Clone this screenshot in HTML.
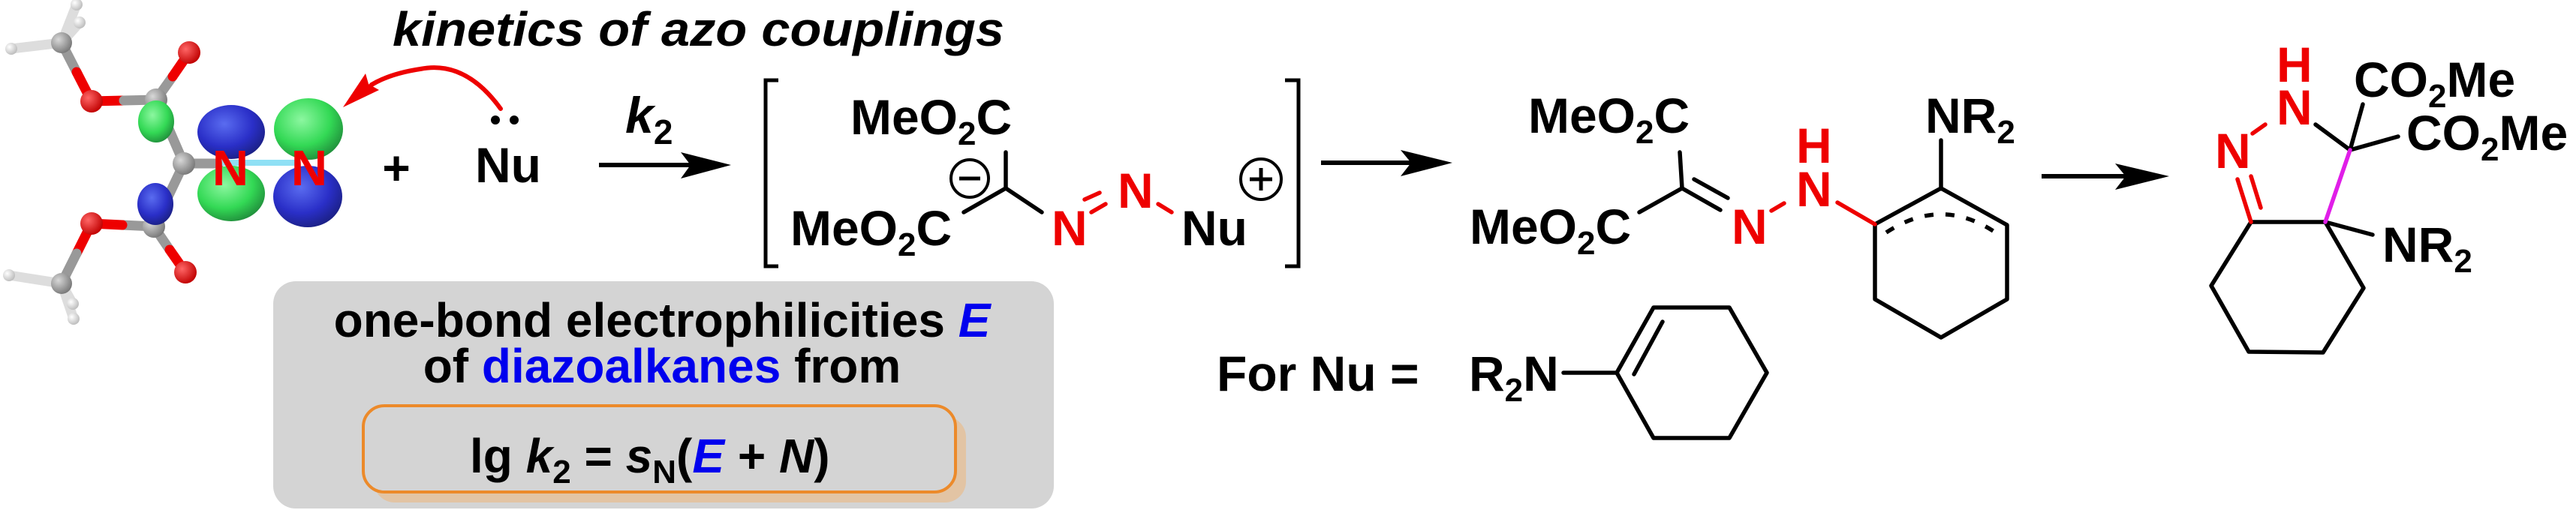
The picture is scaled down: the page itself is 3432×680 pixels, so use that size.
<!DOCTYPE html>
<html><head><meta charset="utf-8"><style>
html,body{margin:0;padding:0;background:#fff;}
svg{display:block;}
text{font-family:"Liberation Sans",Arial,sans-serif;font-weight:bold;}
</style></head><body>
<svg width="3432" height="680" viewBox="0 0 3432 680" xmlns="http://www.w3.org/2000/svg">
<defs>
<radialGradient id="gb" cx="0.4" cy="0.35" r="0.7"><stop offset="0" stop-color="#5a6cf0"/><stop offset="0.6" stop-color="#2a2fc8"/><stop offset="1" stop-color="#1a1f80"/></radialGradient>
<radialGradient id="gg" cx="0.4" cy="0.35" r="0.7"><stop offset="0" stop-color="#8cf7a0"/><stop offset="0.6" stop-color="#33d955"/><stop offset="1" stop-color="#1f8a3a"/></radialGradient>
<radialGradient id="gr" cx="0.35" cy="0.35" r="0.7"><stop offset="0" stop-color="#ff6666"/><stop offset="1" stop-color="#c00000"/></radialGradient>
<radialGradient id="gc" cx="0.35" cy="0.35" r="0.7"><stop offset="0" stop-color="#d8d8d8"/><stop offset="1" stop-color="#777"/></radialGradient>
<radialGradient id="gh" cx="0.35" cy="0.35" r="0.7"><stop offset="0" stop-color="#fff"/><stop offset="1" stop-color="#bbb"/></radialGradient>
</defs>

<!-- molecular model sticks -->
<g stroke-width="13" stroke-linecap="round">
<line x1="82" y1="57" x2="102" y2="6" stroke="#ddd"/>
<line x1="82" y1="57" x2="106" y2="30" stroke="#ddd"/>
<line x1="82" y1="57" x2="15" y2="65" stroke="#ddd"/>
<line x1="82" y1="57" x2="102" y2="96" stroke="#999"/>
<line x1="102" y1="96" x2="122" y2="135" stroke="#e00"/>
<line x1="122" y1="135" x2="165" y2="134" stroke="#e00"/>
<line x1="165" y1="134" x2="208" y2="133" stroke="#999"/>
<line x1="208" y1="133" x2="230" y2="102" stroke="#999"/>
<line x1="230" y1="102" x2="252" y2="70" stroke="#e00"/>
<line x1="208" y1="133" x2="245" y2="218" stroke="#999"/>
<line x1="245" y1="218" x2="205" y2="302" stroke="#999"/>
<line x1="245" y1="218" x2="292" y2="218" stroke="#999"/>
<line x1="205" y1="302" x2="163" y2="300" stroke="#999"/>
<line x1="163" y1="300" x2="122" y2="298" stroke="#e00"/>
<line x1="205" y1="302" x2="226" y2="333" stroke="#999"/>
<line x1="226" y1="333" x2="247" y2="363" stroke="#e00"/>
<line x1="122" y1="298" x2="102" y2="338" stroke="#e00"/>
<line x1="102" y1="338" x2="82" y2="378" stroke="#999"/>
<line x1="82" y1="378" x2="12" y2="367" stroke="#ddd"/>
<line x1="82" y1="378" x2="98" y2="425" stroke="#ddd"/>
<line x1="82" y1="378" x2="97" y2="405" stroke="#ddd"/>
</g>
<g>
<circle cx="102" cy="6" r="8" fill="url(#gh)"/><circle cx="106" cy="30" r="8" fill="url(#gh)"/><circle cx="15" cy="65" r="8" fill="url(#gh)"/>
<circle cx="12" cy="367" r="8" fill="url(#gh)"/><circle cx="98" cy="425" r="8" fill="url(#gh)"/><circle cx="97" cy="405" r="8" fill="url(#gh)"/>
<circle cx="82" cy="57" r="14" fill="url(#gc)"/><circle cx="82" cy="378" r="14" fill="url(#gc)"/>
<circle cx="122" cy="135" r="15" fill="url(#gr)"/><circle cx="252" cy="70" r="15" fill="url(#gr)"/>
<circle cx="122" cy="298" r="15" fill="url(#gr)"/><circle cx="247" cy="363" r="15" fill="url(#gr)"/>
<circle cx="208" cy="133" r="15" fill="url(#gc)"/><circle cx="205" cy="302" r="15" fill="url(#gc)"/>
<ellipse cx="208" cy="162" rx="24" ry="28" fill="url(#gg)"/>
<ellipse cx="207" cy="272" rx="24" ry="28" fill="url(#gb)"/>
<circle cx="245" cy="218" r="15" fill="url(#gc)"/>
<line x1="292" y1="217" x2="400" y2="217" stroke="#8fe0f5" stroke-width="8"/>
<ellipse cx="308" cy="176" rx="45" ry="36" fill="url(#gb)"/>
<ellipse cx="308" cy="258" rx="45" ry="37" fill="url(#gg)"/>
<ellipse cx="411" cy="172" rx="46" ry="41" fill="url(#gg)"/>
<ellipse cx="410" cy="262" rx="46" ry="41" fill="url(#gb)"/>
<line x1="330" y1="217" x2="392" y2="217" stroke="#8fe0f5" stroke-width="7"/>
<text x="307" y="247" font-size="67" fill="#e00" text-anchor="middle">N</text>
<text x="412" y="247" font-size="67" fill="#e00" text-anchor="middle">N</text>
</g>

<!-- curved arrow -->
<path d="M667,145 Q620,80 560,92 Q520,98 495,113" fill="none" stroke="#e00" stroke-width="6" stroke-linecap="round"/>
<polygon points="457,143 487,98 491,112 505,120" fill="#e00"/>
<circle cx="660" cy="160" r="6" fill="#000"/><circle cx="685" cy="160" r="6" fill="#000"/>
<text x="528" y="246" font-size="64" text-anchor="middle">+</text>
<text x="633" y="243" font-size="66">Nu</text>

<text x="523" y="61" font-size="64" font-style="italic" textLength="815" lengthAdjust="spacingAndGlyphs">kinetics of azo couplings</text>

<!-- k2 arrow -->
<text x="833" y="177" font-size="68" font-style="italic">k<tspan font-size="46" font-style="normal" dy="15">2</tspan></text>
<line x1="798" y1="220" x2="925" y2="220" stroke="#000" stroke-width="6"/>
<polygon points="974,220 907,203 920,220 907,238" fill="#000"/>

<!-- brackets -->
<path d="M1037,107 H1020 V355 H1037" fill="none" stroke="#000" stroke-width="5"/>
<path d="M1712,107 H1730 V355 H1712" fill="none" stroke="#000" stroke-width="5"/>

<text x="1133" y="179" font-size="66">MeO<tspan font-size="44" dy="14">2</tspan><tspan dy="-14">C</tspan></text>
<text x="1053" y="327" font-size="66">MeO<tspan font-size="44" dy="14">2</tspan><tspan dy="-14">C</tspan></text>
<circle cx="1292" cy="238" r="25" fill="none" stroke="#000" stroke-width="4"/>
<line x1="1278" y1="238" x2="1306" y2="238" stroke="#000" stroke-width="5"/>
<g stroke="#000" stroke-width="5.5" stroke-linecap="round" fill="none">
<line x1="1340" y1="203" x2="1340" y2="251"/>
<polyline points="1284,283 1340,251 1388,283"/>
</g>
<text x="1401" y="327" font-size="66" fill="#e00">N</text>
<g stroke="#e00" stroke-width="5.5" stroke-linecap="round">
<line x1="1445" y1="266" x2="1465" y2="257"/><line x1="1454" y1="283" x2="1473" y2="272"/>
<line x1="1543" y1="272" x2="1561" y2="283"/>
</g>
<text x="1489" y="277" font-size="66" fill="#e00">N</text>
<text x="1574" y="327" font-size="66">Nu</text>
<circle cx="1680" cy="239" r="27" fill="none" stroke="#000" stroke-width="4"/>
<line x1="1665" y1="239" x2="1695" y2="239" stroke="#000" stroke-width="5"/>
<line x1="1680" y1="224" x2="1680" y2="254" stroke="#000" stroke-width="5"/>

<!-- arrow 2 -->
<line x1="1760" y1="217" x2="1890" y2="217" stroke="#000" stroke-width="6"/>
<polygon points="1935,217 1866,200 1880,217 1866,235" fill="#000"/>

<!-- gray box -->
<rect x="364" y="375" width="1040" height="303" rx="30" fill="#d4d4d4"/>
<text x="882" y="449" font-size="64" text-anchor="middle">one-bond electrophilicities <tspan fill="#00e" font-style="italic">E</tspan></text>
<text x="882" y="510" font-size="64" text-anchor="middle">of <tspan fill="#00e">diazoalkanes</tspan> from</text>
<rect x="498" y="555" width="789" height="115" rx="28" fill="#e2c4a4"/>
<rect x="484" y="541" width="789" height="115" rx="28" fill="#d4d4d4" stroke="#ec8a2a" stroke-width="4"/>
<text x="626" y="630" font-size="64">lg <tspan font-style="italic">k</tspan><tspan font-size="44" dy="14">2</tspan><tspan dy="-14"> = </tspan><tspan font-style="italic">s</tspan><tspan font-size="44" dy="14">N</tspan><tspan dy="-14">(</tspan><tspan fill="#00e" font-style="italic">E</tspan> + <tspan font-style="italic">N</tspan>)</text>

<!-- For Nu = -->
<text x="1621" y="521" font-size="66">For Nu =</text>
<text x="1957" y="521" font-size="66">R<tspan font-size="44" dy="14">2</tspan><tspan dy="-14">N</tspan></text>
<g stroke="#000" stroke-width="5.5" stroke-linecap="round" stroke-linejoin="round" fill="none">
<line x1="2083" y1="497" x2="2154" y2="497"/>
<polygon points="2154,497 2203,410 2304,410 2354,497 2304,584 2203,584"/>
<line x1="2177" y1="499" x2="2215" y2="429"/>
</g>

<!-- hydrazone product -->
<text x="2036" y="177" font-size="66">MeO<tspan font-size="44" dy="14">2</tspan><tspan dy="-14">C</tspan></text>
<text x="1958" y="325" font-size="66">MeO<tspan font-size="44" dy="14">2</tspan><tspan dy="-14">C</tspan></text>
<g stroke="#000" stroke-width="5.5" stroke-linecap="round" stroke-linejoin="round" fill="none">
<line x1="2238" y1="203" x2="2241" y2="251"/>
<line x1="2241" y1="251" x2="2184" y2="283"/>
<line x1="2241" y1="251" x2="2292" y2="280"/>
<line x1="2257" y1="239" x2="2302" y2="264"/>
<line x1="2586" y1="187" x2="2586" y2="251"/>
<polyline points="2498,299 2586,251 2674,300 2674,399 2586,450 2498,399 2498,299"/>
<path d="M2513,310 Q2586,262 2657,309" stroke-dasharray="12,16" stroke-linecap="butt"/>
</g>
<g stroke="#e00" stroke-width="5.5" stroke-linecap="round">
<line x1="2360" y1="281" x2="2377" y2="271"/>
<line x1="2448" y1="270" x2="2498" y2="299"/>
</g>
<text x="2307" y="325" font-size="66" fill="#e00">N</text>
<text x="2393" y="275" font-size="66" fill="#e00">N</text>
<text x="2393" y="217" font-size="66" fill="#e00">H</text>
<text x="2565" y="177" font-size="66">NR<tspan font-size="44" dy="14">2</tspan></text>

<!-- arrow 3 -->
<line x1="2720" y1="235" x2="2850" y2="235" stroke="#000" stroke-width="6"/>
<polygon points="2890,235 2818,218 2832,235 2818,253" fill="#000"/>

<!-- pyrazoline product -->
<g stroke="#000" stroke-width="5.5" stroke-linecap="round" stroke-linejoin="round" fill="none">
<polyline points="3098,296 2999,296 2946,381 2996,469 3095,470 3149,384 3098,296"/>
<line x1="3085" y1="166" x2="3131" y2="200"/>
<line x1="3131" y1="200" x2="3148" y2="139"/>
<line x1="3131" y1="200" x2="3195" y2="182"/>
<line x1="3098" y1="296" x2="3161" y2="313"/>
</g>
<line x1="3131" y1="200" x2="3098" y2="296" stroke="#e01ee8" stroke-width="5.5" stroke-linecap="round"/>
<g stroke="#e00" stroke-width="5.5" stroke-linecap="round">
<line x1="2999" y1="296" x2="2981" y2="239"/>
<line x1="3012" y1="277" x2="2999" y2="235"/>
<line x1="3001" y1="178" x2="3018" y2="166"/>
</g>
<text x="2951" y="224" font-size="66" fill="#e00">N</text>
<text x="3033" y="166" font-size="66" fill="#e00">N</text>
<text x="3033" y="109" font-size="66" fill="#e00">H</text>
<text x="3136" y="129" font-size="66">CO<tspan font-size="44" dy="14">2</tspan><tspan dy="-14">Me</tspan></text>
<text x="3206" y="200" font-size="66">CO<tspan font-size="44" dy="14">2</tspan><tspan dy="-14">Me</tspan></text>
<text x="3174" y="349" font-size="66">NR<tspan font-size="44" dy="14">2</tspan></text>
</svg>
</body></html>
